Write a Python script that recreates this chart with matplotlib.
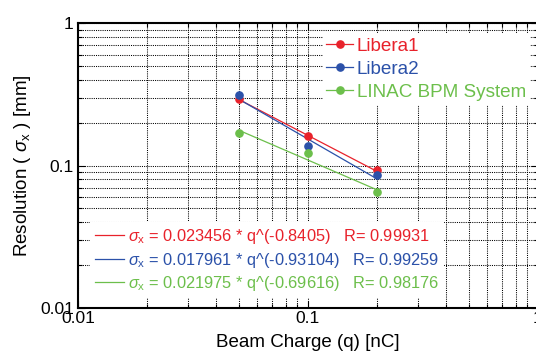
import numpy as np
import matplotlib
matplotlib.use('Agg')
import matplotlib.pyplot as plt
from matplotlib.lines import Line2D
from matplotlib.ticker import FixedLocator, FuncFormatter, LogLocator, NullFormatter

plt.rcParams['font.family'] = ['Liberation Sans', 'DejaVu Sans']
plt.rcParams['mathtext.fontset'] = 'custom'
plt.rcParams['mathtext.rm'] = 'Liberation Sans'
plt.rcParams['mathtext.it'] = 'Liberation Sans:italic'

# measured points
charge = [0.05, 0.1, 0.2]
libera1 = [0.294, 0.160, 0.0927]
libera2 = [0.310, 0.138, 0.0855]
linac = [0.170, 0.122, 0.0647]

# power-law fits shown in the chart: sigma = a * q^b
fit_a = [0.023456, 0.017961, 0.021975]
fit_b = [-0.8405, -0.93104, -0.69616]
fit_r = ['0.99931', '0.99259', '0.98176']
fit_b_txt = ['-0.8405', '-0.93104', '-0.69616']

names = ['Libera1', 'Libera2', 'LINAC BPM System']
colors = ['#e8222b', '#2b51a9', '#6cbf4b']

fig = plt.figure(figsize=(5.36, 3.51), dpi=100)
ax = fig.add_axes([78 / 536, 1 - 308 / 351, 460 / 536, 285 / 351])

ax.set_xscale('log')
ax.set_yscale('log')
ax.set_xlim(0.01, 1)
ax.set_ylim(0.01, 1)

q_fit = np.array([charge[0], charge[-1]])
for ys, a, b, c in zip([libera1, libera2, linac], fit_a, fit_b, colors):
    ax.plot(q_fit, a * q_fit ** b, color=c, lw=0.9, zorder=3)
    ax.plot(charge, ys, 'o', color=c, ms=5.2, zorder=4)

ax.grid(True, which='both', color='black', linestyle=(0, (1, 1.1)), lw=0.75)
ax.set_axisbelow(True)

fmt = FuncFormatter(lambda v, p: {0.01: '0.01', 0.1: '0.1', 1.0: '1'}.get(round(v, 4), ''))
for axis in [ax.xaxis, ax.yaxis]:
    axis.set_major_locator(FixedLocator([0.01, 0.1, 1]))
    axis.set_major_formatter(fmt)
    axis.set_minor_locator(LogLocator(base=10, subs=np.arange(2, 10)))
    axis.set_minor_formatter(NullFormatter())
ax.tick_params(which='both', direction='in', top=True, right=True, labelsize=12.5, width=0.8)
ax.tick_params(which='major', length=5)
ax.tick_params(which='minor', length=3)
ax.tick_params(axis='x', which='major', pad=2)
ax.tick_params(axis='y', which='major', pad=3)
for s in ax.spines.values():
    s.set_linewidth(1.5)

ax.set_xlabel('Beam Charge (q) [nC]', fontsize=13.5, labelpad=6)
ax.set_ylabel(r'Resolution ( $\sigma_{\rm x}$ ) [mm]', fontsize=13.5, labelpad=5)

# upper legend: data series
h1 = [Line2D([], [], color=c, lw=0.9, marker='o', ms=5.2) for c in colors]
leg1 = ax.legend(h1, names, loc='upper left', bbox_to_anchor=(0.532, 0.963),
                 fontsize=13.6, handlelength=1.4, handletextpad=0.2, labelspacing=0.32,
                 borderpad=0.2, borderaxespad=0, frameon=True, fancybox=False,
                 facecolor='white', edgecolor='none', framealpha=1)
for t, c in zip(leg1.get_texts(), colors):
    t.set_color(c)
ax.add_artist(leg1)

# lower legend: fit equations
h2 = [Line2D([], [], color=c, lw=0.9) for c in colors]
labels2 = [r'$\sigma_{\rm x}$ = %s * q^(%s)   R= %s' % (a, bt, r)
           for a, bt, r in zip(fit_a, fit_b_txt, fit_r)]
leg2 = ax.legend(h2, labels2, loc='lower left', bbox_to_anchor=(0.026, 0.035),
                 fontsize=11.8, handlelength=1.75, handletextpad=0.25, labelspacing=0.28,
                 borderpad=0.3, borderaxespad=0, frameon=True, fancybox=False,
                 facecolor='white', edgecolor='none', framealpha=1)
for t, c in zip(leg2.get_texts(), colors):
    t.set_color(c)

fig.savefig('out.png', dpi=100)
